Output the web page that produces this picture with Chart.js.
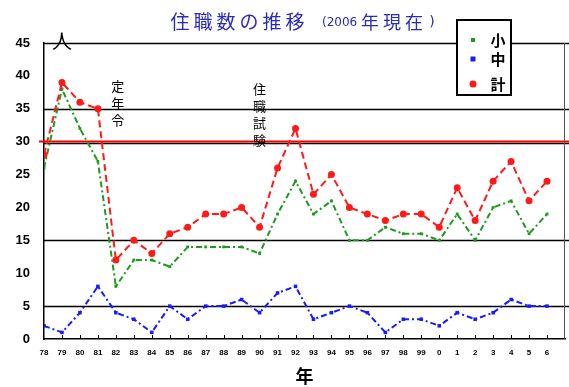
<!DOCTYPE html>
<html>
<head>
<meta charset="utf-8">
<script src="https://cdn.jsdelivr.net/npm/chart.js@4/dist/chart.umd.min.js"></script>
<style>
  html, body { margin: 0; padding: 0; background: #fff; }
  #wrap { width: 569px; height: 387px; position: relative; }
</style>
</head>
<body>
<div id="wrap"><canvas id="c" width="569" height="387"></canvas></div>
<script>
// 年（西暦下2桁）
const yearLabels = ['78','79','80','81','82','83','84','85','86','87','88','89','90','91','92',
  '93','94','95','96','97','98','99','0','1','2','3','4','5','6'];
// 住職数
const small = [26,38,32,27,8,12,12,11,14,14,14,14,13,19,24,19,21,15,15,17,16,16,15,19,15,20,21,16,19];
const middle = [2,1,4,8,4,3,1,5,3,5,5,6,4,7,8,3,4,5,4,1,3,3,2,4,3,4,6,5,5];
const total = [28,39,36,35,12,15,13,16,17,19,19,20,17,26,32,22,25,20,19,18,19,19,17,23,18,24,27,21,24];
const seriesNames = ['小', '中', '計'];
const yTicks = [0,5,10,15,20,25,30,35,40,45];
// 目安線
const blackLines = [5, 15, 35];
const redLine = 30;
// 注記
const notes = [
  { text: '定年令', at: 4.1, y: 38.5 },
  { text: '住職試験', at: 12, y: 38 }
];

const toXY = arr => arr.map((v, i) => ({ x: i, y: v }));
const CJK = '"Noto Sans CJK JP", "Noto Sans CJK SC", sans-serif';

const decor = {
  id: 'decor',
  beforeDatasetsDraw(chart) {
    const { ctx, chartArea: a, scales: { x, y } } = chart;
    const W = chart.width;
    ctx.save();
    ctx.strokeStyle = '#000';
    ctx.lineWidth = 1.5;
    blackLines.concat([redLine]).forEach(v => {
      const off = v === redLine ? 1 : 0;
      const py = Math.round(y.getPixelForValue(v)) + 0.5 + off;
      ctx.beginPath(); ctx.moveTo(a.left, py); ctx.lineTo(W, py); ctx.stroke();
    });
    // red line
    const ry = Math.round(y.getPixelForValue(redLine)) - 0.5;
    ctx.strokeStyle = '#ff0000';
    ctx.lineWidth = 2;
    ctx.beginPath(); ctx.moveTo(a.left - 5, ry); ctx.lineTo(W, ry); ctx.stroke();
    // frame: top and right
    ctx.strokeStyle = '#000';
    ctx.lineWidth = 1.5;
    ctx.beginPath(); ctx.moveTo(a.left, a.top + 0.5); ctx.lineTo(W, a.top + 0.5); ctx.stroke();
    ctx.strokeStyle = '#555';
    ctx.lineWidth = 1;
    ctx.beginPath(); ctx.moveTo(a.right - 0.5, a.top); ctx.lineTo(a.right - 0.5, a.bottom); ctx.stroke();
    // inner tick marks on x axis
    ctx.strokeStyle = '#000';
    ctx.lineWidth = 1;
    for (let i = 1; i < yearLabels.length; i++) {
      const px = Math.round(x.getPixelForValue(i)) + 0.5;
      ctx.beginPath(); ctx.moveTo(px, a.bottom); ctx.lineTo(px, a.bottom - 4); ctx.stroke();
    }
    // vertical notes
    ctx.fillStyle = '#000';
    ctx.font = '13px ' + CJK;
    ctx.textAlign = 'center';
    ctx.textBaseline = 'middle';
    notes.forEach(n => {
      const px = x.getPixelForValue(n.at);
      const py = y.getPixelForValue(n.y);
      [...n.text].forEach((ch, k) => ctx.fillText(ch, px, py + k * 17));
    });
    ctx.restore();
  },
  afterDraw(chart) {
    const { ctx, chartArea: a, scales: { x } } = chart;
    ctx.save();
    // title
    ctx.fillStyle = '#2a2ab8';
    ctx.textBaseline = 'middle';
    ctx.textAlign = 'center';
    ctx.font = '19px ' + CJK;
    let cx = 180;
    [...'住職数の推移'].forEach(ch => { ctx.fillText(ch, cx, 22); cx += 23; });
    ctx.font = '12px "DejaVu Sans", sans-serif';
    ctx.textAlign = 'left';
    ctx.fillText('(2006', 322, 23);
    ctx.textAlign = 'center';
    ctx.font = '18px ' + CJK;
    ctx.fillText('年', 370, 22);
    ctx.fillText('現', 392, 22);
    ctx.fillText('在', 414, 22);
    ctx.font = '14px "DejaVu Sans", sans-serif';
    ctx.fillText(')', 432, 22);

    // axis titles
    ctx.fillStyle = '#000';
    ctx.font = '20px ' + CJK;
    ctx.fillText('人', a.left + 18, a.top - 2);
    ctx.font = 'bold 18px ' + CJK;
    ctx.fillText('年', x.getPixelForValue(14.5), 376);

    // legend
    const lx = 457, ly = 20, lw = 54, lh = 75;
    ctx.fillStyle = '#fff';
    ctx.fillRect(lx, ly, lw, lh);
    ctx.strokeStyle = '#000';
    ctx.lineWidth = 2;
    ctx.strokeRect(lx, ly, lw, lh);
    const rows = [40, 59, 84];
    chart.data.datasets.forEach((ds, i) => {
      const my = rows[i];
      ctx.fillStyle = ds.pointBackgroundColor;
      if (ds.pointStyle === 'circle') {
        ctx.beginPath(); ctx.arc(473, my, ds.pointRadius, 0, Math.PI * 2); ctx.fill();
      } else {
        const r = ds.pointRadius;
        ctx.fillRect(473 - r, my - r, 2 * r, 2 * r);
      }
      ctx.fillStyle = '#000';
      ctx.font = 'bold 15px ' + CJK;
      ctx.fillText(ds.label, 498, my);
    });
    ctx.restore();
  }
};

new Chart(document.getElementById('c'), {
  type: 'line',
  data: {
    datasets: [
      { label: seriesNames[0], data: toXY(small), borderColor: '#1f9a1f', backgroundColor: '#1f9a1f',
        pointBackgroundColor: '#1f9a1f', pointBorderWidth: 0, pointStyle: 'rect', pointRadius: 2,
        borderWidth: 2, borderDash: [6, 3, 2, 3], tension: 0, order: 3 },
      { label: seriesNames[1], data: toXY(middle), borderColor: '#1a1aff', backgroundColor: '#1a1aff',
        pointBackgroundColor: '#1a1aff', pointBorderWidth: 0, pointStyle: 'rect', pointRadius: 2.5,
        borderWidth: 2, borderDash: [6, 3, 2, 3], tension: 0, order: 2 },
      { label: seriesNames[2], data: toXY(total), borderColor: '#ff1a1a', backgroundColor: '#ff1a1a',
        pointBackgroundColor: '#ff1a1a', pointBorderWidth: 0, pointStyle: 'circle', pointRadius: 3.5,
        borderWidth: 2, borderDash: [7, 4], tension: 0, order: 1 }
    ]
  },
  options: {
    responsive: false,
    animation: false,
    layout: { padding: { top: 43, right: 3, left: 0, bottom: 0 } },
    plugins: { legend: { display: false }, title: { display: false }, tooltip: { enabled: false } },
    scales: {
      x: {
        type: 'linear', min: 0, max: yearLabels.length,
        afterFit(s) { s.height = 48; },
        afterBuildTicks(s) { s.ticks = yearLabels.map((_, i) => ({ value: i })); },
        ticks: {
          autoSkip: false, maxRotation: 0, minRotation: 0, padding: 1,
          color: '#000', font: { family: '"Liberation Sans", sans-serif', size: 8, weight: 'bold' },
          callback: v => yearLabels[v] ?? ''
        },
        grid: { display: false },
        border: { display: true, color: '#000', width: 1.5 }
      },
      y: {
        min: 0, max: 45,
        afterFit(s) { s.width = 44; },
        afterBuildTicks(s) { s.ticks = yTicks.map(v => ({ value: v })); },
        ticks: {
          padding: 6, color: '#000',
          font: { family: '"Liberation Sans", sans-serif', size: 13, weight: 'bold' }
        },
        grid: { display: false },
        border: { display: true, color: '#000', width: 1.5 }
      }
    }
  },
  plugins: [decor]
});
</script>
</body>
</html>
